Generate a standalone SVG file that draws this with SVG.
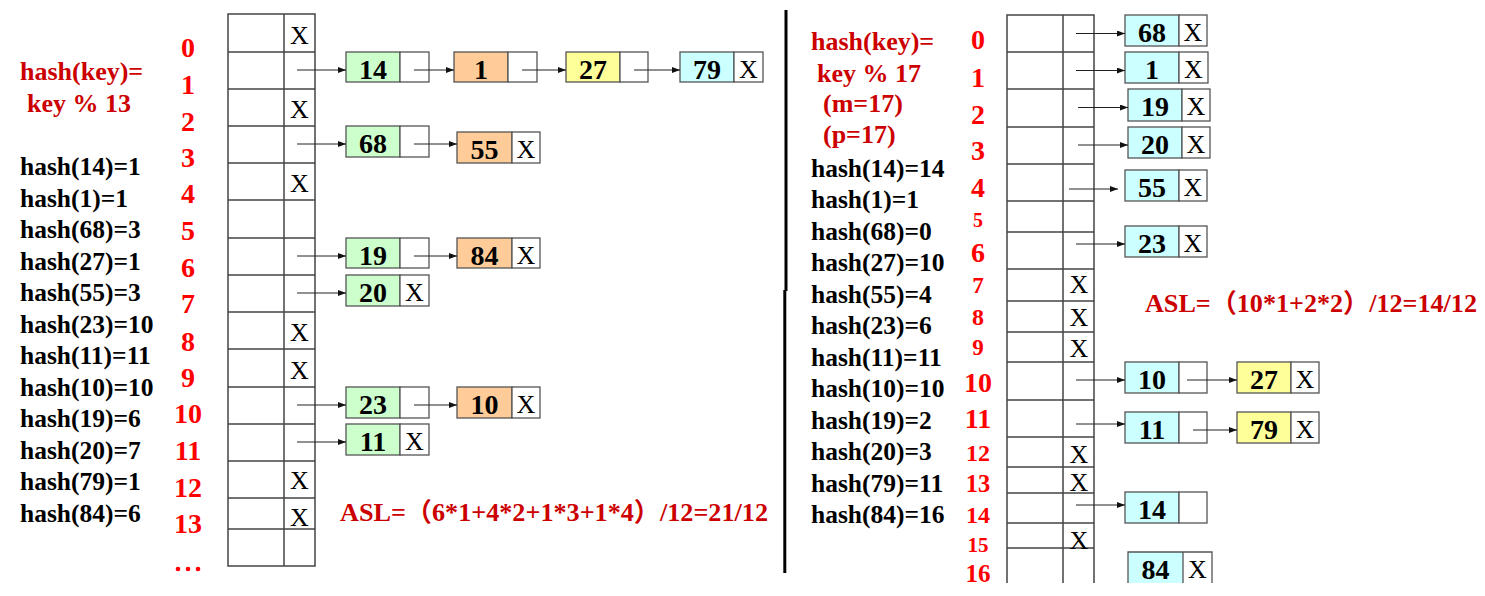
<svg xmlns="http://www.w3.org/2000/svg" width="1485" height="596" viewBox="0 0 1485 596">
<defs>
<marker id="ah" markerUnits="userSpaceOnUse" markerWidth="8" markerHeight="6" refX="8" refY="3" orient="auto">
<path d="M0,0 L8,3 L0,6 Z" fill="#111"/>
</marker>
<style>
.tbl{fill:none;stroke:#444;stroke-width:1.5}
.cg{fill:#CCFFCC;stroke:#555;stroke-width:1.3}
.co{fill:#FFCC99;stroke:#555;stroke-width:1.3}
.cy{fill:#FFFF99;stroke:#555;stroke-width:1.3}
.cc{fill:#CCFFFF;stroke:#555;stroke-width:1.3}
.cp{fill:#FFFFFF;stroke:#555;stroke-width:1.3}
.v{font-family:"Liberation Serif","Times New Roman",serif;font-weight:bold;font-size:28px;fill:#000;text-anchor:middle}
.x{font-family:"Liberation Serif","Times New Roman",serif;font-size:26px;fill:#000;text-anchor:middle}
.idx{font-family:"Liberation Serif","Times New Roman",serif;font-weight:bold;fill:#FF0000;text-anchor:middle}
.rd{font-family:"Liberation Serif","Times New Roman","Noto Sans CJK SC",serif;font-weight:bold;font-size:26px;fill:#CC0000}
.bk{font-family:"Liberation Serif","Times New Roman",serif;font-weight:bold;font-size:25.5px;fill:#000}
.ar{stroke:#222;stroke-width:1;fill:none;marker-end:url(#ah)}
</style>
</defs>
<rect width="1485" height="596" fill="#fff"/>

<!-- LEFT SIDE -->
<g id="left-formula">
<text class="rd" x="20" y="80">hash(key)=</text>
<text class="rd" x="27" y="112">key % 13</text>
</g>
<g id="left-hashes" class="bk">
<text class="bk" x="20" y="175">hash(14)=1</text>
<text class="bk" x="20" y="206.5">hash(1)=1</text>
<text class="bk" x="20" y="238">hash(68)=3</text>
<text class="bk" x="20" y="269.5">hash(27)=1</text>
<text class="bk" x="20" y="301">hash(55)=3</text>
<text class="bk" x="20" y="332.5">hash(23)=10</text>
<text class="bk" x="20" y="364">hash(11)=11</text>
<text class="bk" x="20" y="395.5">hash(10)=10</text>
<text class="bk" x="20" y="427">hash(19)=6</text>
<text class="bk" x="20" y="458.5">hash(20)=7</text>
<text class="bk" x="20" y="490">hash(79)=1</text>
<text class="bk" x="20" y="521.5">hash(84)=6</text>
</g>
<g id="left-index" class="idx" font-size="28">
<text class="idx" font-size="28" x="188" y="57">0</text>
<text class="idx" font-size="28" x="188" y="94">1</text>
<text class="idx" font-size="28" x="188" y="130.5">2</text>
<text class="idx" font-size="28" x="188" y="166.5">3</text>
<text class="idx" font-size="28" x="188" y="203">4</text>
<text class="idx" font-size="28" x="188" y="240">5</text>
<text class="idx" font-size="28" x="188" y="277">6</text>
<text class="idx" font-size="28" x="188" y="313">7</text>
<text class="idx" font-size="28" x="188" y="351">8</text>
<text class="idx" font-size="28" x="188" y="387">9</text>
<text class="idx" font-size="28" x="188" y="423">10</text>
<text class="idx" font-size="28" x="188" y="460">11</text>
<text class="idx" font-size="28" x="188" y="497">12</text>
<text class="idx" font-size="28" x="188" y="533">13</text>
<circle cx="178" cy="569" r="2.3" fill="#FF0000"/>
<circle cx="188" cy="569" r="2.3" fill="#FF0000"/>
<circle cx="198" cy="569" r="2.3" fill="#FF0000"/>
</g>
<g id="left-table">
<rect class="tbl" x="228" y="14" width="87" height="552"/>
<line class="tbl" x1="284" y1="14" x2="284" y2="566"/>
<path class="tbl" d="M228,52H315M228,89H315M228,126H315M228,163H315M228,200H315M228,238H315M228,275H315M228,312H315M228,349H315M228,387H315M228,424H315M228,461H315M228,498H315M228,529H315"/>
<text class="x" x="299.5" y="44">X</text>
<text class="x" x="299.5" y="118">X</text>
<text class="x" x="299.5" y="192">X</text>
<text class="x" x="299.5" y="341">X</text>
<text class="x" x="299.5" y="379">X</text>
<text class="x" x="299.5" y="489">X</text>
<text class="x" x="299.5" y="526">X</text>
</g>

<g id="L-n14"><rect class="cg" x="346" y="52" width="54" height="30"/><rect class="cp" x="400" y="52" width="29" height="30"/><text class="v" x="373" y="78.5">14</text></g>
<g id="L-n1"><rect class="co" x="454" y="52" width="54" height="30"/><rect class="cp" x="508" y="52" width="29" height="30"/><text class="v" x="481" y="78.5">1</text></g>
<g id="L-n27"><rect class="cy" x="566" y="52" width="54" height="30"/><rect class="cp" x="620" y="52" width="28" height="30"/><text class="v" x="593" y="78.5">27</text></g>
<g id="L-n79"><rect class="cc" x="680" y="52" width="54" height="30"/><rect class="cp" x="734" y="52" width="29" height="30"/><text class="v" x="707" y="78.5">79</text><text class="x" x="748.5" y="77.5">X</text></g>
<g id="L-n68"><rect class="cg" x="346" y="126" width="54" height="31"/><rect class="cp" x="400" y="126" width="29" height="31"/><text class="v" x="373" y="152.5">68</text></g>
<g id="L-n55"><rect class="co" x="457" y="132" width="55" height="31"/><rect class="cp" x="512" y="132" width="28" height="31"/><text class="v" x="484.5" y="158.5">55</text><text class="x" x="526" y="157.5">X</text></g>
<g id="L-n19"><rect class="cg" x="346" y="238" width="54" height="30"/><rect class="cp" x="400" y="238" width="29" height="30"/><text class="v" x="373" y="264.5">19</text></g>
<g id="L-n84"><rect class="co" x="457" y="238" width="55" height="30"/><rect class="cp" x="512" y="238" width="28" height="30"/><text class="v" x="484.5" y="264.5">84</text><text class="x" x="526" y="263.5">X</text></g>
<g id="L-n20"><rect class="cg" x="346" y="275" width="54" height="31"/><rect class="cp" x="400" y="275" width="29" height="31"/><text class="v" x="373" y="301.5">20</text><text class="x" x="414.5" y="300.5">X</text></g>
<g id="L-n23"><rect class="cg" x="346" y="387" width="54" height="31"/><rect class="cp" x="400" y="387" width="29" height="31"/><text class="v" x="373" y="413.5">23</text></g>
<g id="L-n10"><rect class="co" x="457" y="387" width="55" height="31"/><rect class="cp" x="512" y="387" width="28" height="31"/><text class="v" x="484.5" y="413.5">10</text><text class="x" x="526" y="412.5">X</text></g>
<g id="L-n11"><rect class="cg" x="346" y="424" width="54" height="31"/><rect class="cp" x="400" y="424" width="29" height="31"/><text class="v" x="373" y="450.5">11</text><text class="x" x="414.5" y="449.5">X</text></g>

<text id="left-asl" class="rd" x="340" y="521" textLength="428" lengthAdjust="spacingAndGlyphs">ASL=（6*1+4*2+1*3+1*4）/12=21/12</text>

<!-- DIVIDER -->
<g id="divider">
<line x1="786" y1="10" x2="786" y2="291" stroke="#000" stroke-width="3"/>
<line x1="784.8" y1="290" x2="784.8" y2="573" stroke="#000" stroke-width="3"/>
</g>

<!-- RIGHT SIDE -->
<g id="right-formula">
<text class="rd" x="811" y="50">hash(key)=</text>
<text class="rd" x="817" y="81.5">key % 17</text>
<text class="rd" x="823" y="112">(m=17)</text>
<text class="rd" x="823" y="142.5">(p=17)</text>
</g>
<g id="right-hashes">
<text class="bk" x="811" y="176.5">hash(14)=14</text>
<text class="bk" x="811" y="208">hash(1)=1</text>
<text class="bk" x="811" y="239.5">hash(68)=0</text>
<text class="bk" x="811" y="271">hash(27)=10</text>
<text class="bk" x="811" y="302.5">hash(55)=4</text>
<text class="bk" x="811" y="334">hash(23)=6</text>
<text class="bk" x="811" y="365.5">hash(11)=11</text>
<text class="bk" x="811" y="397">hash(10)=10</text>
<text class="bk" x="811" y="428.5">hash(19)=2</text>
<text class="bk" x="811" y="460">hash(20)=3</text>
<text class="bk" x="811" y="491.5">hash(79)=11</text>
<text class="bk" x="811" y="523">hash(84)=16</text>
</g>
<g id="right-index">
<text class="idx" font-size="28" x="978" y="48.5">0</text>
<text class="idx" font-size="28" x="978" y="86.5">1</text>
<text class="idx" font-size="28" x="978" y="123.5">2</text>
<text class="idx" font-size="28" x="978" y="160">3</text>
<text class="idx" font-size="28" x="978" y="196.5">4</text>
<text class="idx" font-size="20" x="978" y="227">5</text>
<text class="idx" font-size="28" x="978" y="262">6</text>
<text class="idx" font-size="23" x="978" y="293">7</text>
<text class="idx" font-size="24" x="978" y="325">8</text>
<text class="idx" font-size="23" x="978" y="355">9</text>
<text class="idx" font-size="28" x="978" y="391.5">10</text>
<text class="idx" font-size="28" x="978" y="428">11</text>
<text class="idx" font-size="24" x="978" y="460.5">12</text>
<text class="idx" font-size="24.5" x="978" y="492">13</text>
<text class="idx" font-size="24" x="978" y="523">14</text>
<text class="idx" font-size="21" x="978" y="551.5">15</text>
<text class="idx" font-size="25" x="978" y="581.5">16</text>
</g>
<g id="right-table">
<path class="tbl" d="M1007,583V15H1094V583M1063,15V583"/>
<path class="tbl" d="M1007,52H1094M1007,89H1094M1007,127H1094M1007,164H1094M1007,201H1094M1007,232H1094M1007,269H1094M1007,301H1094M1007,332H1094M1007,362H1094M1007,400H1094M1007,437H1094M1007,467H1094M1007,493H1094M1007,523H1094M1007,548H1094"/>
<text class="x" x="1079" y="293">X</text>
<text class="x" x="1079" y="326">X</text>
<text class="x" x="1079" y="357">X</text>
<text class="x" x="1079" y="463">X</text>
<text class="x" x="1079" y="491">X</text>
<text class="x" x="1079" y="549">X</text>
</g>

<g id="R-n68"><rect class="cc" x="1125" y="15" width="54" height="31"/><rect class="cp" x="1179" y="15" width="28" height="31"/><text class="v" x="1152" y="41.5">68</text><text class="x" x="1193" y="40.5">X</text></g>
<g id="R-n1"><rect class="cc" x="1125" y="52" width="54" height="31"/><rect class="cp" x="1179" y="52" width="29" height="31"/><text class="v" x="1152" y="78.5">1</text><text class="x" x="1193.5" y="77.5">X</text></g>
<g id="R-n19"><rect class="cc" x="1128" y="89" width="54" height="32"/><rect class="cp" x="1182" y="89" width="28" height="32"/><text class="v" x="1155" y="116">19</text><text class="x" x="1196" y="115">X</text></g>
<g id="R-n20"><rect class="cc" x="1128" y="127" width="54" height="31"/><rect class="cp" x="1182" y="127" width="28" height="31"/><text class="v" x="1155" y="153.5">20</text><text class="x" x="1196" y="152.5">X</text></g>
<g id="R-n55"><rect class="cc" x="1125" y="170" width="54" height="31"/><rect class="cp" x="1179" y="170" width="28" height="31"/><text class="v" x="1152" y="196.5">55</text><text class="x" x="1193" y="195.5">X</text></g>
<g id="R-n23"><rect class="cc" x="1125" y="226" width="54" height="31"/><rect class="cp" x="1179" y="226" width="28" height="31"/><text class="v" x="1152" y="252.5">23</text><text class="x" x="1193" y="251.5">X</text></g>
<g id="R-n10"><rect class="cc" x="1125" y="362" width="54" height="31"/><rect class="cp" x="1179" y="362" width="28" height="31"/><text class="v" x="1152" y="388.5">10</text></g>
<g id="R-n27"><rect class="cy" x="1237" y="362" width="54" height="31"/><rect class="cp" x="1291" y="362" width="28" height="31"/><text class="v" x="1264" y="388.5">27</text><text class="x" x="1305" y="387.5">X</text></g>
<g id="R-n11"><rect class="cc" x="1125" y="412" width="54" height="31"/><rect class="cp" x="1179" y="412" width="28" height="31"/><text class="v" x="1152" y="438.5">11</text></g>
<g id="R-n79"><rect class="cy" x="1237" y="412" width="54" height="31"/><rect class="cp" x="1291" y="412" width="28" height="31"/><text class="v" x="1264" y="438.5">79</text><text class="x" x="1305" y="437.5">X</text></g>
<g id="R-n14"><rect class="cc" x="1125" y="492" width="54" height="31"/><rect class="cp" x="1179" y="492" width="28" height="31"/><text class="v" x="1152" y="518.5">14</text></g>
<g id="R-n84"><rect x="1128" y="552" width="55" height="31" fill="#CCFFFF"/><path d="M1128,583V552H1212V583M1183,552V583" fill="none" stroke="#555" stroke-width="1.3"/><text class="v" x="1155.5" y="578.5">84</text><text class="x" x="1197.5" y="577.5">X</text></g>

<text id="right-asl" class="rd" x="1145" y="311.5" textLength="332" lengthAdjust="spacingAndGlyphs">ASL=（10*1+2*2）/12=14/12</text>

<g id="connectors">
<line class="ar" x1="297" y1="70" x2="346" y2="70"/>
<line class="ar" x1="414" y1="70" x2="454" y2="70"/>
<line class="ar" x1="522" y1="70" x2="566" y2="70"/>
<line class="ar" x1="634" y1="70" x2="680" y2="70"/>
<line class="ar" x1="297" y1="144" x2="346" y2="144"/>
<line class="ar" x1="414" y1="144" x2="457" y2="144"/>
<line class="ar" x1="297" y1="256" x2="346" y2="256"/>
<line class="ar" x1="414" y1="256" x2="457" y2="256"/>
<line class="ar" x1="297" y1="293" x2="346" y2="293"/>
<line class="ar" x1="297" y1="405" x2="346" y2="405"/>
<line class="ar" x1="414" y1="405" x2="457" y2="405"/>
<line class="ar" x1="297" y1="442" x2="346" y2="442"/>
<line class="ar" x1="1076" y1="33.5" x2="1125" y2="33.5"/>
<line class="ar" x1="1076" y1="70.5" x2="1125" y2="70.5"/>
<line class="ar" x1="1078" y1="107.5" x2="1128" y2="107.5"/>
<line class="ar" x1="1078" y1="145" x2="1128" y2="145"/>
<line class="ar" x1="1069" y1="189" x2="1118" y2="189"/>
<line class="ar" x1="1076" y1="244" x2="1125" y2="244"/>
<line class="ar" x1="1076" y1="380" x2="1125" y2="380"/>
<line class="ar" x1="1187" y1="380" x2="1237" y2="380"/>
<line class="ar" x1="1076" y1="424" x2="1125" y2="424"/>
<line class="ar" x1="1193" y1="430" x2="1237" y2="430"/>
<line class="ar" x1="1076" y1="505" x2="1125" y2="505"/>
</g>
</svg>
